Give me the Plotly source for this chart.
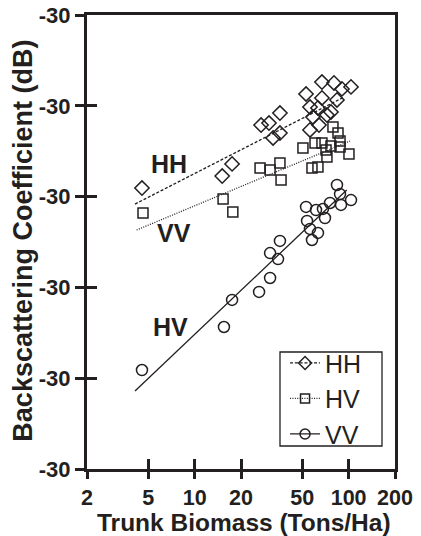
import math
import plotly.graph_objects as go

# ---- data -------------------------------------------------------------
# Trunk biomass (Tons/Ha) and backscattering coefficient (dB) per stand

hh_biomass = [4.55, 15.1, 17.5, 27.0, 30.4, 35.8, 32.3, 35.8, 52.9, 67.1, 80.3,
              90.5, 103.6, 67.1, 84.0, 56.1, 63.2, 58.7, 72.3, 76.8, 56.1, 64.2]
hh_sigma = [-14.53, -13.87, -13.20, -11.06, -10.95, -10.40, -11.77, -11.50, -9.35,
            -8.69, -8.74, -9.07, -8.96, -9.57, -9.68, -10.07, -10.12, -10.62,
            -10.51, -10.34, -11.33, -11.06]

hv_biomass = [4.62, 15.3, 17.7, 26.6, 30.9, 35.8, 36.4, 50.5, 60.5, 67.1, 79.1,
              85.3, 76.8, 87.9, 100.5, 72.3, 57.8, 63.2, 71.3, 87.9]
hv_sigma = [-15.90, -15.13, -15.85, -13.43, -13.54, -13.15, -14.09, -12.32, -12.05,
            -12.05, -11.17, -11.50, -12.21, -12.27, -12.65, -12.82, -13.43, -13.37,
            -12.43, -11.94]

vv_biomass = [4.55, 15.5, 17.5, 26.2, 30.9, 30.9, 34.8, 35.8, 57.8, 63.2, 56.1,
              53.7, 70.2, 52.9, 61.4, 68.1, 75.7, 89.2, 103.6, 84.0, 87.9]
vv_sigma = [-24.55, -22.18, -20.69, -20.25, -19.48, -18.11, -18.44, -17.44, -17.39,
            -17.00, -16.78, -16.34, -16.18, -15.57, -15.74, -15.68, -15.35, -15.46,
            -15.19, -14.36, -14.86]

# regression lines (end points)
hh_fit_x = [4.10, 93.3]
hh_fit_y = [-15.41, -9.52]
hv_fit_x = [4.20, 102.0]
hv_fit_y = [-16.84, -11.94]
vv_fit_x = [4.10, 97.2]
vv_fit_y = [-25.70, -14.64]

# in-plot series labels
label_text = ["HH", "VV", "HV"]
label_x = [6.82, 7.29, 6.92]
label_y = [-13.20, -17.00, -22.18]

x_tick_values = [2, 5, 10, 20, 50, 100, 200]
x_tick_labels = ["2", "5", "10", "20", "50", "100", "200"]
y_tick_values = [-30, -25, -20, -15, -10, -5]
y_tick_labels = ["-30", "-30", "-30", "-30", "-30", "-30"]

x_title = "Trunk Biomass (Tons/Ha)"
y_title = "Backscattering Coefficient (dB)"

# ---- styling ----------------------------------------------------------
INK = "#231f20"
FONT = "Arial, Liberation Sans, sans-serif"
x_range = [math.log10(2), math.log10(200)]
y_range = [-30, -5]

series = [
    ("HH", hh_biomass, hh_sigma, hh_fit_x, hh_fit_y, "diamond-open", 11, "3px,1.8px"),
    ("HV", hv_biomass, hv_sigma, hv_fit_x, hv_fit_y, "square-open", 10, "1px,1.4px"),
    ("VV", vv_biomass, vv_sigma, vv_fit_x, vv_fit_y, "circle-open", 11, "solid"),
]

fig = go.Figure()

for name, bx, sy, fx, fy, symbol, size, dash in series:
    fig.add_trace(go.Scatter(
        x=fx, y=fy, mode="lines", showlegend=False, hoverinfo="skip",
        line=dict(color=INK, width=1.3, dash=dash),
    ))
    fig.add_trace(go.Scatter(
        x=bx, y=sy, mode="markers", showlegend=False, name=name,
        marker=dict(symbol=symbol, size=size, color=INK,
                    line=dict(color=INK, width=1.5)),
    ))

# legend entries showing line style with marker
for name, bx, sy, fx, fy, symbol, size, dash in series:
    fig.add_trace(go.Scatter(
        x=[None], y=[None], mode="lines+markers", name=name,
        line=dict(color=INK, width=1.3, dash=dash),
        marker=dict(symbol=symbol, size=size - 1, color=INK,
                    line=dict(color=INK, width=1.5)),
    ))

# companion axes that carry the outward half of the crossing tick marks
fig.add_trace(go.Scatter(x=[None], y=[None], xaxis="x2", yaxis="y2",
                         showlegend=False, hoverinfo="skip"))

for txt, lx, ly in zip(label_text, label_x, label_y):
    fig.add_annotation(x=math.log10(lx), y=ly, text=txt, showarrow=False,
                       font=dict(family=FONT, size=25, color=INK, weight="bold"),
                       xanchor="center", yanchor="middle")

# axis titles
fig.add_annotation(xref="paper", yref="paper", x=0.51, y=-0.1176,
                   text=x_title, showarrow=False,
                   xanchor="center", yanchor="middle",
                   font=dict(family=FONT, size=24.5, color=INK, weight="bold"))
fig.add_annotation(xref="paper", yref="paper", x=-0.206, y=0.502,
                   text=y_title, showarrow=False, textangle=-90,
                   xanchor="center", yanchor="middle",
                   font=dict(family=FONT, size=27, color=INK, weight="bold"))

# legend frame
fig.add_shape(type="rect", xref="paper", yref="paper",
              x0=0.6266, x1=0.9578, y0=0.0507, y1=0.2577,
              line=dict(color=INK, width=1.3), fillcolor="white", layer="above")

axis_common = dict(showgrid=False, zeroline=False, tickcolor=INK, tickwidth=3,
                   automargin=False)

fig.update_layout(
    width=421, height=536, autosize=False,
    margin=dict(l=87, r=26, t=15, b=67, pad=0),
    paper_bgcolor="white", plot_bgcolor="white",
    font=dict(family=FONT, color=INK),
    xaxis=dict(
        type="log", range=x_range, tickmode="array",
        tickvals=x_tick_values, ticktext=x_tick_labels,
        ticks="inside", ticklen=10, ticklabelstandoff=7,
        showline=True, linewidth=3, linecolor=INK, mirror=True,
        tickfont=dict(family=FONT, size=21.5, color=INK, weight="bold"),
        **axis_common,
    ),
    yaxis=dict(
        range=y_range, tickmode="array",
        tickvals=y_tick_values, ticktext=y_tick_labels,
        ticks="outside", ticklen=9, showline=True, linewidth=3,
        linecolor=INK, mirror=True,
        tickfont=dict(family=FONT, size=22, color=INK, weight="bold"),
        **axis_common,
    ),
    xaxis2=dict(
        type="log", range=x_range, overlaying="x", anchor="y", side="bottom",
        tickmode="array", tickvals=x_tick_values, ticks="outside", ticklen=9,
        showticklabels=False, showline=False, **axis_common,
    ),
    yaxis2=dict(
        range=y_range, overlaying="y", anchor="x", side="left",
        tickmode="array", tickvals=y_tick_values, ticks="inside", ticklen=10,
        showticklabels=False, showline=False, **axis_common,
    ),
    legend=dict(
        x=0.643, y=0.026, xanchor="left", yanchor="bottom",
        bgcolor="rgba(0,0,0,0)", borderwidth=0,
        font=dict(family=FONT, size=25, color=INK),
        tracegroupgap=0,
    ),
)

fig.write_html("out.html")
